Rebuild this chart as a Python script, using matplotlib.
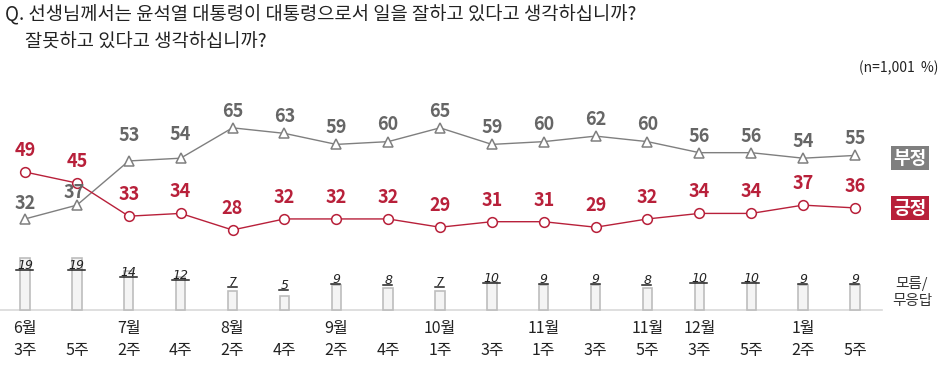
import matplotlib.pyplot as plt
from matplotlib.lines import Line2D

plt.rcParams['font.family'] = ['Noto Sans CJK KR', 'DejaVu Sans']

# 조사 시점
months = ['6월', '', '7월', '', '8월', '', '9월', '', '10월', '', '11월', '', '11월', '12월', '', '1월', '']
weeks = ['3주', '5주', '2주', '4주', '2주', '4주', '2주', '4주', '1주', '3주', '1주', '3주', '5주', '3주', '5주', '2주', '5주']

# 직무평가 (%)
positive = [49, 45, 33, 34, 28, 32, 32, 32, 29, 31, 31, 29, 32, 34, 34, 37, 36]
negative = [32, 37, 53, 54, 65, 63, 59, 60, 65, 59, 60, 62, 60, 56, 56, 54, 55]
unknown = [19, 19, 14, 12, 7, 5, 9, 8, 7, 10, 9, 9, 8, 10, 10, 9, 9]

RED = '#B8203A'
GRAY = '#7F7F7F'
GRAY_TXT = '#666666'

fig = plt.figure(figsize=(9.45, 3.73), dpi=100)
ax = fig.add_axes([0, 0, 1, 1])
ax.set_xlim(-0.482, 17.735)
ax.set_ylim(-23.8, 111.3)
ax.axis('off')

x = list(range(len(positive)))

# 모름/무응답 막대 (기준선 -1)
base = -1
ax.bar(x, unknown, bottom=base, width=0.18, color='#F4F4F4', edgecolor='#BDBDBD', linewidth=1.2, zorder=2)
ax.axhline(base, xmin=0, xmax=882 / 945, color='#D9D9D9', linewidth=1.2, zorder=1)

# 선 그래프
ax.plot(x, negative, color=GRAY, linewidth=1, marker='^', markersize=7.5,
        markerfacecolor='white', markeredgecolor=GRAY, markeredgewidth=1.1, zorder=3)
ax.plot(x, positive, color=RED, linewidth=1, marker='o', markersize=7,
        markerfacecolor='white', markeredgecolor=RED, markeredgewidth=1.1, zorder=4)

neg_off = {0: 11, 1: 9, 2: 18, 3: 17}
for i, v in enumerate(negative):
    dx = -2 if i == 1 else 0
    ax.annotate(str(v), (i, v), xytext=(dx, neg_off.get(i, 12)), textcoords='offset points',
                ha='center', va='center', fontsize=13, fontweight='bold', color=GRAY_TXT, zorder=5)
for i, v in enumerate(positive):
    ax.annotate(str(v), (i, v), xytext=(0, 15.5), textcoords='offset points',
                ha='center', va='center', fontsize=13, fontweight='bold', color=RED, zorder=5)

# 막대 라벨 (기울임 + 밑줄)
bar_texts = []
for i, v in enumerate(unknown):
    t = ax.text(i, base + 4.2 + v * 0.5, str(v), ha='center', va='bottom',
                fontsize=9, style='italic', family='DejaVu Sans', color='#222222', zorder=6)
    bar_texts.append(t)

fig.canvas.draw()
r = fig.canvas.get_renderer()
for t in bar_texts:
    bb = t.get_window_extent(r)
    y0 = bb.y0 + 2
    fig.add_artist(Line2D([bb.x0 - 1, bb.x1], [y0, y0], transform=None,
                          color='#222222', linewidth=1.1))

# x축 라벨
for i in x:
    ax.annotate(months[i], (i, base), xytext=(0, -13.5), textcoords='offset points',
                ha='center', va='center', fontsize=11.5, color='#222222')
    ax.annotate(weeks[i], (i, base), xytext=(0, -29), textcoords='offset points',
                ha='center', va='center', fontsize=11.5, color='#222222')

# 범례
fig.text(910 / 945, 1 - 158 / 373, '부정', ha='center', va='center', fontsize=13, fontweight='bold',
         color='white', bbox=dict(boxstyle='square,pad=0.12', facecolor='#7F7F7F', edgecolor='none'))
fig.text(910 / 945, 1 - 208 / 373, '긍정', ha='center', va='center', fontsize=13, fontweight='bold',
         color='white', bbox=dict(boxstyle='square,pad=0.12', facecolor=RED, edgecolor='none'))
fig.text(912 / 945, 1 - 292 / 373, '모름/\n무응답', ha='center', va='center', fontsize=10.5,
         color='#333333', linespacing=1.2)
fig.text(938 / 945, 1 - 68 / 373, '(n=1,001  %)', ha='right', va='center', fontsize=10, color='#222222')

# 질문
fig.text(5 / 945, 1 - 15 / 373, 'Q. 선생님께서는 윤석열 대통령이 대통령으로서 일을 잘하고 있다고 생각하십니까?',
         ha='left', va='center', fontsize=13.5, color='#222222')
fig.text(25 / 945, 1 - 42 / 373, '잘못하고 있다고 생각하십니까?',
         ha='left', va='center', fontsize=13.5, color='#222222')

fig.savefig('out.png', dpi=100, facecolor='white')
